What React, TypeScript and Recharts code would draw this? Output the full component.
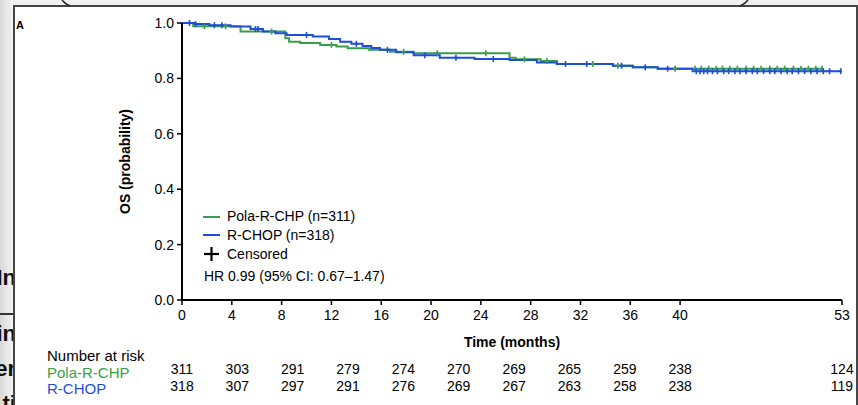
import React from 'react';
import { ComposedChart, Line, Scatter, XAxis, YAxis, Label } from 'recharts';

// ---- data ----
const xTicks = [0, 4, 8, 12, 16, 20, 24, 28, 32, 36, 40, 53];
const yTicks = [0, 0.2, 0.4, 0.6, 0.8, 1.0];

const riskTimes = [0, 4.44, 8.89, 13.33, 17.78, 22.22, 26.67, 31.11, 35.56, 40, 53];
const polaRisk = [311, 303, 291, 279, 274, 270, 269, 265, 259, 238, 124];
const rchopRisk = [318, 307, 297, 291, 276, 269, 267, 263, 258, 238, 119];

const polaTimes = [0, 0.9, 4.7, 8.3, 8.6, 9.5, 11.1, 12.4, 13.3, 15.0, 16.7, 18.6, 26.3, 26.8, 28.8, 30.1, 34.6, 36.2, 38.2, 51.4];
const polaSurv = [1.0, 0.988, 0.969, 0.945, 0.932, 0.928, 0.921, 0.915, 0.909, 0.903, 0.896, 0.891, 0.875, 0.869, 0.863, 0.852, 0.846, 0.84, 0.835, 0.835];

const rchopTimes = [0, 1.0, 2.2, 3.9, 5.5, 6.5, 7.5, 8.4, 10.5, 11.8, 12.7, 13.6, 14.5, 15.2, 15.9, 17.2, 18.6, 20.7, 23.5, 26.3, 28.5, 30.1, 34.6, 36.2, 38.2, 41.0, 52.9];
const rchopSurv = [1.0, 0.996, 0.992, 0.987, 0.978, 0.969, 0.963, 0.957, 0.951, 0.942, 0.932, 0.925, 0.917, 0.91, 0.903, 0.894, 0.884, 0.875, 0.87, 0.866, 0.857, 0.852, 0.846, 0.84, 0.835, 0.826, 0.826];

const polaCensor = [1.8, 3.5, 7.2, 12.0, 17.8, 20.5, 24.4, 27.5, 29.3, 33.0, 35.0, 39.6, 41.2, 41.7, 42.3, 42.9, 43.4, 44.0, 44.6, 45.3, 45.9, 46.5, 47.2, 47.8, 48.4, 49.1, 49.7, 50.3, 50.9, 51.4];
const rchopCensor = [0.6, 1.1, 2.6, 3.2, 5.9, 6.1, 10.0, 14.0, 16.5, 19.5, 22.0, 25.0, 30.8, 32.5, 35.3, 37.2, 39.0, 41.3, 41.6, 41.9, 42.2, 42.6, 43.0, 43.5, 43.9, 44.4, 44.8, 45.3, 45.8, 46.2, 46.7, 47.2, 47.6, 48.1, 48.6, 49.0, 49.5, 50.0, 50.5, 51.0, 51.5, 52.0, 52.9];

const GREEN = '#3a9e48';
const BLUE = '#1f4ed8';
const FONT = '"Liberation Sans", Arial, Helvetica, sans-serif';

const toRows = (ts: number[], ss: number[]) => ts.map((t, i) => ({ t, s: ss[i] }));
const stepAt = (ts: number[], ss: number[], t: number) => {
  let v = ss[0];
  for (let i = 0; i < ts.length; i++) if (ts[i] <= t) v = ss[i];
  return v;
};
const censorRows = (cs: number[], ts: number[], ss: number[]) => cs.map((t) => ({ t, s: stepAt(ts, ss, t) }));

const polaData = toRows(polaTimes, polaSurv);
const rchopData = toRows(rchopTimes, rchopSurv);
const polaCens = censorRows(polaCensor, polaTimes, polaSurv);
const rchopCens = censorRows(rchopCensor, rchopTimes, rchopSurv);

const censorShape = (color: string) => (p: any) => {
  const { cx, cy } = p;
  if (cx == null || cy == null) return <g />;
  return (
    <g>
      <line x1={cx} y1={cy - 3} x2={cx} y2={cy + 3} stroke={color} strokeWidth={1.6} />
      <line x1={cx - 2} y1={cy} x2={cx + 2} y2={cy} stroke={color} strokeWidth={1.6} />
    </g>
  );
};

export default function App() {
  return (
    <div style={{ position: 'absolute', left: 0, top: 0, width: 858, height: 405, overflow: 'hidden', background: '#f1f1f1', fontFamily: FONT }}>
      {/* page frame */}
      <div style={{ position: 'absolute', left: 13, top: 5, width: 841, height: 420, border: '2px solid #454545', background: '#fff' }} />
      {/* left strip */}
      <div style={{ position: 'absolute', left: 0, top: 0, width: 13, height: 405, overflow: 'hidden', background: 'linear-gradient(to right, #d8d8d8, #f4f4f4)' }}>
        <div style={{ position: 'absolute', left: 0, top: 313, width: 13, height: 1.5, background: '#333' }} />
        {[
          ['In', 266],
          ['in', 322],
          ['er', 357],
          ['ti', 392],
        ].map(([s, y]) => (
          <div key={s as string} style={{ position: 'absolute', right: -3, top: y as number, fontSize: 22, fontWeight: 'bold', color: '#111', lineHeight: '24px', whiteSpace: 'nowrap' }}>{s}</div>
        ))}
      </div>
      <svg style={{ position: 'absolute', left: 0, top: 0 }} width={858} height={8}>
        <path d="M 62 0 Q 65 4 70 6" stroke="#222" strokeWidth={1.5} fill="none" />
        <path d="M 748 0 Q 745 4 740 6" stroke="#222" strokeWidth={1.5} fill="none" />
      </svg>

      <div style={{ position: 'absolute', left: 16, top: 19, fontSize: 11, fontWeight: 'bold', color: '#000' }}>A</div>

      <div style={{ position: 'absolute', left: 0, top: 0 }}>
        <ComposedChart width={858} height={405} margin={{ top: 23, right: 16, bottom: 18, left: 122 }}>
          <XAxis
            xAxisId="main"
            type="number"
            dataKey="t"
            domain={[0, 53]}
            ticks={xTicks}
            interval={0}
            allowDataOverflow
            stroke="#000"
            axisLine={{ stroke: '#000', strokeWidth: 2 }}
            tickLine={{ stroke: '#000', strokeWidth: 1.5 }}
            tickSize={5}
            tickMargin={5}
            height={50}
            tick={{ fill: '#000', fontSize: 14, fontFamily: FONT }}
          >
            <Label value="Time (months)" position="insideBottom" offset={3} style={{ fontWeight: 'bold', fontSize: 14, fill: '#000', fontFamily: FONT }} />
          </XAxis>
          <XAxis
            xAxisId="r1"
            type="number"
            dataKey="t"
            domain={[0, 53]}
            ticks={riskTimes}
            interval={0}
            allowDataOverflow
            axisLine={false}
            tickLine={false}
            tickSize={0}
            tickMargin={14}
            height={20}
            tickFormatter={(v: number) => String(polaRisk[riskTimes.indexOf(v)])}
            tick={{ fill: '#000', fontSize: 14, fontFamily: FONT }}
          />
          <XAxis
            xAxisId="r2"
            type="number"
            dataKey="t"
            domain={[0, 53]}
            ticks={riskTimes}
            interval={0}
            allowDataOverflow
            axisLine={false}
            tickLine={false}
            tickSize={0}
            tickMargin={11}
            height={17}
            tickFormatter={(v: number) => String(rchopRisk[riskTimes.indexOf(v)])}
            tick={{ fill: '#000', fontSize: 14, fontFamily: FONT }}
          />
          <YAxis
            yAxisId="y"
            type="number"
            dataKey="s"
            domain={[0, 1]}
            ticks={yTicks}
            interval={0}
            width={60}
            axisLine={{ stroke: '#000', strokeWidth: 2 }}
            tickLine={{ stroke: '#000', strokeWidth: 1.5 }}
            tickSize={5}
            tickMargin={3}
            tickFormatter={(v: number) => v.toFixed(1)}
            tick={{ fill: '#000', fontSize: 14, fontFamily: FONT }}
          >
            <Label value="OS (probability)" angle={-90} position="insideLeft" offset={3} style={{ textAnchor: 'middle', fontWeight: 'bold', fontSize: 14, fill: '#000', fontFamily: FONT }} />
          </YAxis>
          <Line xAxisId="main" yAxisId="y" data={polaData} dataKey="s" type="stepAfter" stroke={GREEN} strokeWidth={2} dot={false} isAnimationActive={false} />
          <Scatter xAxisId="main" yAxisId="y" data={polaCens} dataKey="s" shape={censorShape(GREEN)} isAnimationActive={false} />
          <Line xAxisId="main" yAxisId="y" data={rchopData} dataKey="s" type="stepAfter" stroke={BLUE} strokeWidth={2} dot={false} isAnimationActive={false} />
          <Scatter xAxisId="main" yAxisId="y" data={rchopCens} dataKey="s" shape={censorShape(BLUE)} isAnimationActive={false} />
        </ComposedChart>
      </div>

      {/* legend */}
      <div style={{ position: 'absolute', left: 203, top: 207, fontSize: 14, color: '#000', lineHeight: '19px' }}>
        <div style={{ display: 'flex', alignItems: 'center', height: 19 }}>
          <span style={{ display: 'inline-block', width: 17, height: 2, background: GREEN, marginRight: 7 }} />Pola-R-CHP (n=311)
        </div>
        <div style={{ display: 'flex', alignItems: 'center', height: 18 }}>
          <span style={{ display: 'inline-block', width: 17, height: 2, background: BLUE, marginRight: 7 }} />R-CHOP (n=318)
        </div>
        <div style={{ display: 'flex', alignItems: 'center', height: 20 }}>
          <svg width={17} height={16} style={{ marginRight: 7 }}>
            <line x1={8.5} y1={1} x2={8.5} y2={15} stroke="#000" strokeWidth={2.2} />
            <line x1={1} y1={8} x2={16} y2={8} stroke="#000" strokeWidth={2.2} />
          </svg>
          Censored
        </div>
        <div style={{ marginTop: 3, height: 19, marginLeft: 1 }}>HR 0.99 (95% CI: 0.67–1.47)</div>
      </div>

      {/* number at risk labels */}
      <div style={{ position: 'absolute', left: 47, top: 348, fontSize: 15, lineHeight: '16.5px' }}>
        <div style={{ color: '#000' }}>Number at risk</div>
        <div style={{ color: GREEN }}>Pola-R-CHP</div>
        <div style={{ color: BLUE }}>R-CHOP</div>
      </div>
    </div>
  );
}
